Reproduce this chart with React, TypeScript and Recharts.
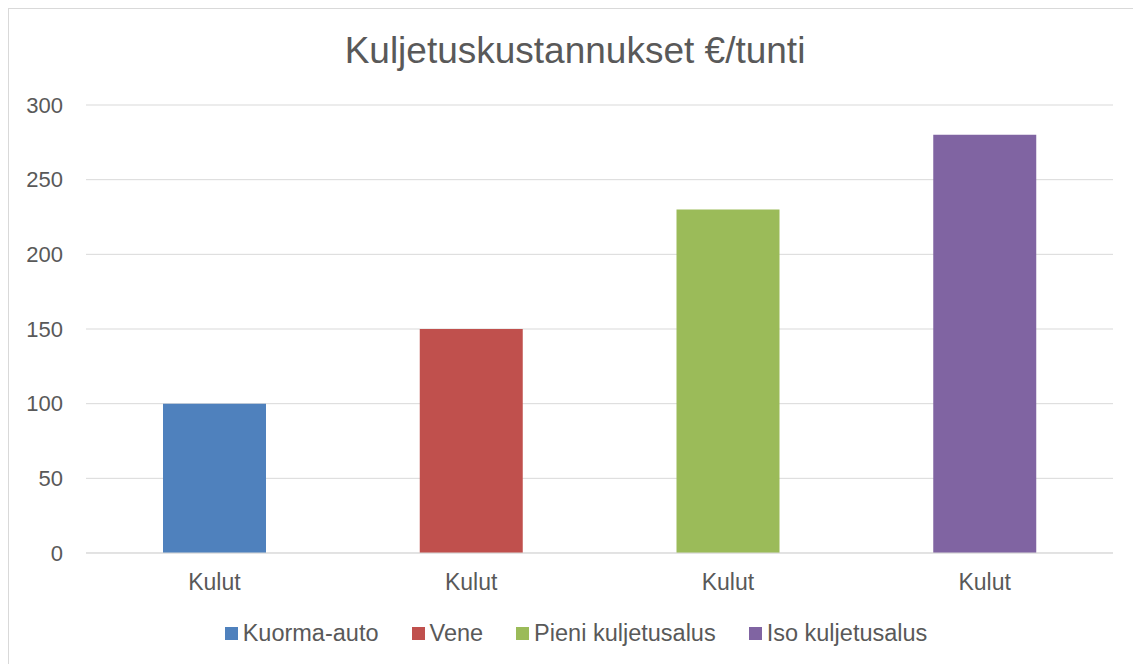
import React from "react"
import { BarChart, Bar, Cell, XAxis, YAxis, CartesianGrid, Legend } from "recharts"

// chart values
const title = "Kuljetuskustannukset €/tunti"
const categoryLabel = "Kulut"
const seriesNames = ["Kuorma-auto", "Vene", "Pieni kuljetusalus", "Iso kuljetusalus"]
const seriesValues = [100, 150, 230, 280]
const seriesColors = ["#4f81bd", "#c0504d", "#9bbb59", "#8064a2"]
const yTicks = [0, 50, 100, 150, 200, 250, 300]

const data = seriesNames.map((name, i) => ({ key: name, label: categoryLabel, value: seriesValues[i] }))

const font = "'Liberation Sans', Arial, sans-serif"
const textColor = "#595959"

function LegendContent() {
  return (
    <div style={{ display: "flex", justifyContent: "center", alignItems: "center", height: 30, fontFamily: font, fontSize: 23.5, color: textColor }}>
      {seriesNames.map((name, i) => (
        <div key={name} style={{ display: "flex", alignItems: "center", marginLeft: i === 0 ? 0 : 33 }}>
          <span style={{ display: "inline-block", width: 13, height: 13, background: seriesColors[i], marginRight: 5 }} />
          <span>{name}</span>
        </div>
      ))}
    </div>
  )
}

export default function App() {
  return (
    <div style={{ width: 1134, height: 656, border: "1px solid #d9d9d9", background: "#fff" }}>
      <BarChart
        width={1134}
        height={656}
        data={data}
        margin={{ top: 96, right: 30, left: 0, bottom: 52 }}
        style={{ fontFamily: font }}
      >
        <text x={566} y={54} textAnchor="middle" fontSize={37} fill={textColor} fontFamily={font}>
          {title}
        </text>
        <CartesianGrid vertical={false} stroke="#d9d9d9" />
        <XAxis
          dataKey="key"
          tickFormatter={(v: string) => data.find((d) => d.key === v)?.label ?? ""}
          axisLine={{ stroke: "#d9d9d9" }}
          tickLine={false}
          tickMargin={15}
          tick={{ fontSize: 23, fill: textColor }}
        />
        <YAxis
          width={77}
          domain={[0, 300]}
          ticks={yTicks}
          axisLine={false}
          tickLine={false}
          tickMargin={17}
          tick={{ fontSize: 22, fill: textColor }}
        />
        <Legend
          verticalAlign="bottom"
          content={() => <LegendContent />}
          wrapperStyle={{ top: 609, bottom: "auto", left: 0, width: 1134 }}
        />
        <Bar dataKey="value" barSize={103} isAnimationActive={false}>
          {data.map((d, i) => (
            <Cell key={d.key} fill={seriesColors[i]} />
          ))}
        </Bar>
      </BarChart>
    </div>
  )
}
